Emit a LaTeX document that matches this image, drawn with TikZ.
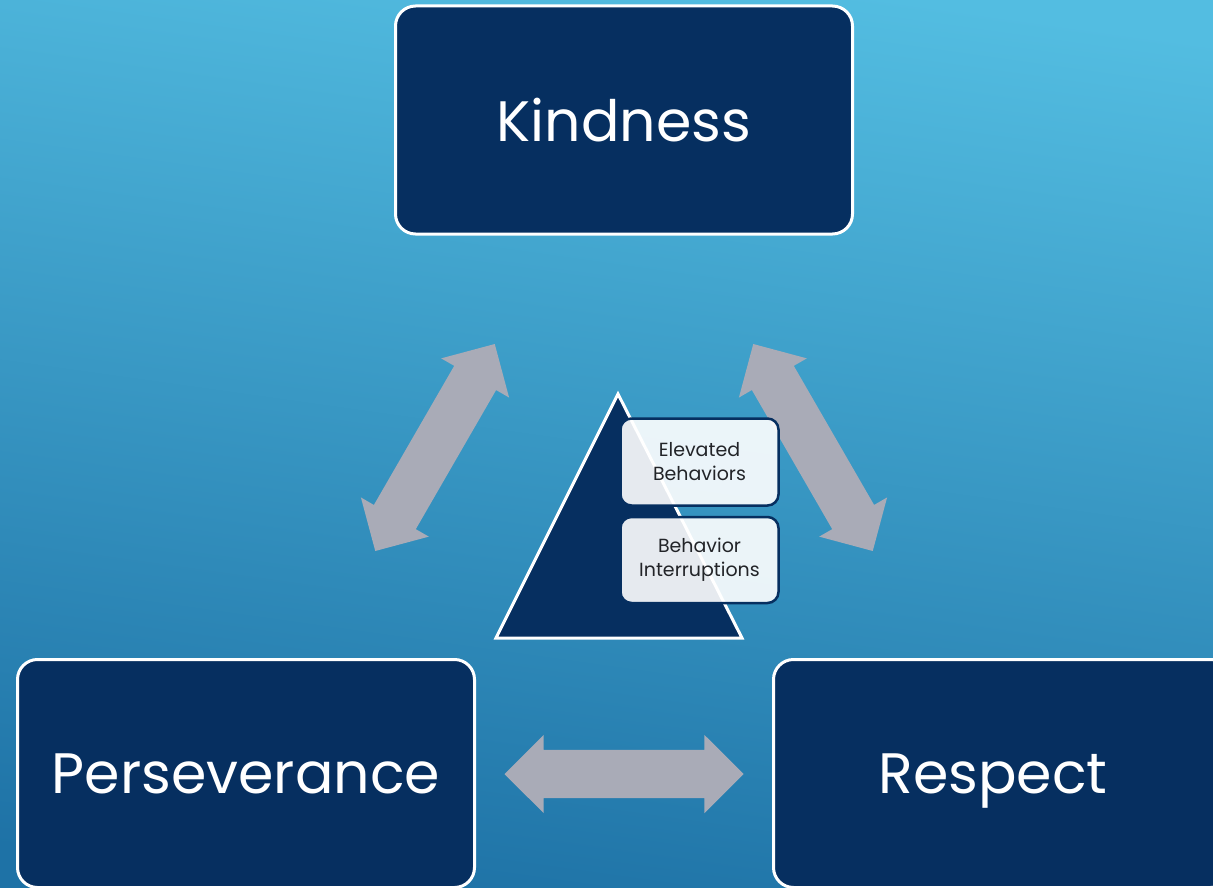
\documentclass[tikz,border=0pt]{standalone}
\usepackage{fontspec}
\setmainfont{Poppins}
\usetikzlibrary{shapes.arrows}
\definecolor{navy}{HTML}{062F60}
\definecolor{arrowgray}{HTML}{A9ABB7}
\definecolor{bgtop}{HTML}{53BDE1}
\definecolor{bgmid}{HTML}{3A9BC8}
\definecolor{bgbot}{HTML}{1E72A6}
\definecolor{smalltext}{HTML}{222428}
\tikzset{
  bigfont/.style={font=\fontsize{57}{64}\selectfont},
  bigbox/.style={draw=white, line width=3pt, fill=navy, rounded corners=20pt,
    minimum width=457pt, minimum height=228pt, inner sep=0pt, text=white,
    bigfont, text depth=0pt},
  smallbox/.style={draw=navy, line width=2.5pt, fill=white, fill opacity=0.9,
    text opacity=1, rounded corners=11pt, minimum width=158pt, inner sep=0pt,
    text=smalltext, align=center, font=\fontsize{19}{24}\selectfont},
  blockarrow/.style={double arrow, fill=arrowgray, draw=none,
    minimum height=239pt, minimum width=78pt, inner xsep=0pt, inner ysep=24pt,
    double arrow head extend=15pt, double arrow tip angle=90},
}
\begin{document}
\begin{tikzpicture}[x=1pt,y=-1pt]
\useasboundingbox (0,0) rectangle (1213,888);
\clip (0,0) rectangle (1213,888);
\shade[top color=bgtop, middle color=bgmid, bottom color=bgbot, shading angle=-8] (-20,-20) rectangle (1233,908);

% block arrows
\node[blockarrow, rotate=60] (aleft) at (435,447.5) {};
\node[blockarrow, rotate=-60] (aright) at (813,447.5) {};
\node[blockarrow] (abottom) at (624,774) {};

% main boxes
\node[bigbox] (kind) at (624,120) {Kindness};
\node[bigbox] (pers) at (246,773.5) {Perseverance};
\node[bigbox, label={[text=white, bigfont, text depth=0pt, xshift=-9pt]center:Respect}] (resp) at (1002,773.5) {};

% pyramid
\coordinate (apex) at (618,394);
\coordinate (bl) at (496,638);
\coordinate (br) at (742,638);
\draw[draw=white, line width=3pt, fill=navy, line join=miter] (apex) -- (br) -- (bl) -- cycle;

\node[smallbox, minimum height=87pt] (elev) at (699.5,462) {Elevated\\Behaviors};
\node[smallbox, minimum height=86pt] (intr) at (699.5,560) {Behavior\\Interruptions};
\end{tikzpicture}
\end{document}
